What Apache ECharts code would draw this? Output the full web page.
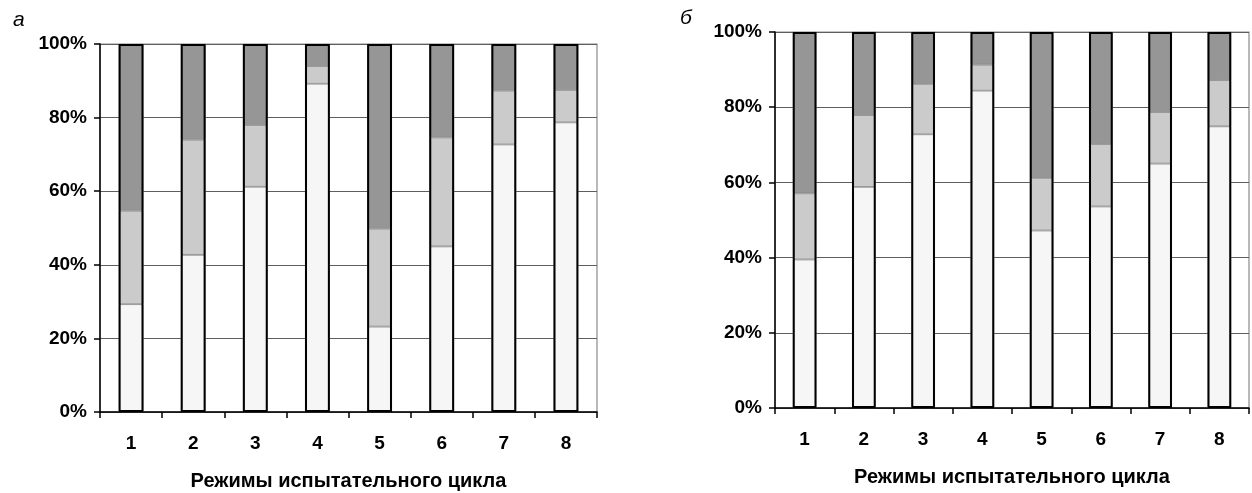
<!DOCTYPE html>
<html>
<head>
<meta charset="utf-8">
<script src="https://cdn.jsdelivr.net/npm/echarts@6/dist/echarts.min.js"></script>
<style>
  html, body { margin: 0; padding: 0; background: #fff; }
  #chart { width: 1252px; height: 493px; }
</style>
</head>
<body>
<div id="chart"></div>
<script>
// Test-cycle modes (categories on the x axis)
const modes = ['1', '2', '3', '4', '5', '6', '7', '8'];
const axisTitle = 'Режимы испытательного цикла';

// Panel "а": shares of the three components, %
const aLower  = [29.3, 42.7, 61.2, 89.2, 23.2, 45.0, 72.7, 78.7];
const aMiddle = [25.4, 31.3, 16.8,  4.8, 26.6, 29.6, 14.6,  8.8];
const aUpper  = [45.3, 26.0, 22.0,  6.0, 50.2, 25.4, 12.7, 12.5];

// Panel "б": shares of the three components, %
const bLower  = [39.5, 58.8, 72.8, 84.4, 47.2, 53.6, 65.0, 74.9];
const bMiddle = [17.6, 19.1, 13.4,  6.9, 14.0, 16.6, 13.7, 12.3];
const bUpper  = [42.9, 22.1, 13.8,  8.7, 38.8, 29.8, 21.3, 12.8];

const FONT = '"Liberation Sans", Arial, sans-serif';
const segColors = ['#f6f6f6', '#cbcbcb', '#969696'];

function xAxisFor(gridIndex) {
  return {
    type: 'category', gridIndex, data: modes,
    axisLine: { lineStyle: { color: '#000', width: 1.5 } },
    axisTick: { show: true, length: 6, inside: false, lineStyle: { color: '#000', width: 1.5 } },
    axisLabel: { color: '#000', fontFamily: FONT, fontWeight: 'bold', fontSize: 19, margin: 22 },
    name: axisTitle, nameLocation: 'middle', nameGap: 59,
    nameTextStyle: { color: '#000', fontFamily: FONT, fontWeight: 'bold', fontSize: 20 }
  };
}
function yAxisFor(gridIndex) {
  return {
    type: 'value', gridIndex, min: 0, max: 100, interval: 20,
    axisLine: { show: true, lineStyle: { color: '#000', width: 1.5 } },
    axisTick: { show: true, length: 6, lineStyle: { color: '#000', width: 1.5 } },
    axisLabel: { color: '#000', fontFamily: FONT, fontWeight: 'bold', fontSize: 19, margin: 13,
                 formatter: v => v + '%' },
    splitLine: { show: true, lineStyle: { color: '#5e5e5e', width: 1.2 } }
  };
}
// Three stacked segments per mode, plus a dark outline around each whole column
function panelSeries(idx, arrays, stackName) {
  const segs = arrays.map((arr, k) => ({
    type: 'bar', xAxisIndex: idx, yAxisIndex: idx, stack: stackName,
    data: arr, barWidth: '40%', barGap: '-100%',
    itemStyle: { color: segColors[k], borderColor: '#888', borderWidth: 0.8 },
    emphasis: { disabled: true }, silent: true
  }));
  const totals = arrays[0].map((_, i) => arrays.reduce((s, a) => s + a[i], 0));
  segs.push({
    type: 'bar', xAxisIndex: idx, yAxisIndex: idx, stack: stackName + '-outline',
    data: totals, barWidth: '40%', barGap: '-100%', z: 3,
    itemStyle: { color: 'rgba(0,0,0,0)', borderColor: '#000', borderWidth: 2 },
    emphasis: { disabled: true }, silent: true
  });
  return segs;
}

const chart = echarts.init(document.getElementById('chart'), null, { renderer: 'canvas' });
chart.setOption({
  animation: false,
  backgroundColor: '#fff',
  title: [
    { text: 'а', left: 8, top: 5,
      textStyle: { fontFamily: FONT, fontStyle: 'italic', fontWeight: 'normal', fontSize: 21, color: '#000' } },
    { text: 'б', left: 675, top: 3,
      textStyle: { fontFamily: FONT, fontStyle: 'italic', fontWeight: 'normal', fontSize: 21, color: '#000' } }
  ],
  grid: [
    { left: 100, right: 655, top: 44, bottom: 81, outerBoundsMode: 'none',
      show: true, borderColor: '#8a8a8a', borderWidth: 1.2 },
    { left: 775, right: 3, top: 32, bottom: 85, outerBoundsMode: 'none',
      show: true, borderColor: '#8a8a8a', borderWidth: 1.2 }
  ],
  xAxis: [xAxisFor(0), xAxisFor(1)],
  yAxis: [yAxisFor(0), yAxisFor(1)],
  series: [
    ...panelSeries(0, [aLower, aMiddle, aUpper], 'a'),
    ...panelSeries(1, [bLower, bMiddle, bUpper], 'b')
  ]
});
</script>
</body>
</html>
